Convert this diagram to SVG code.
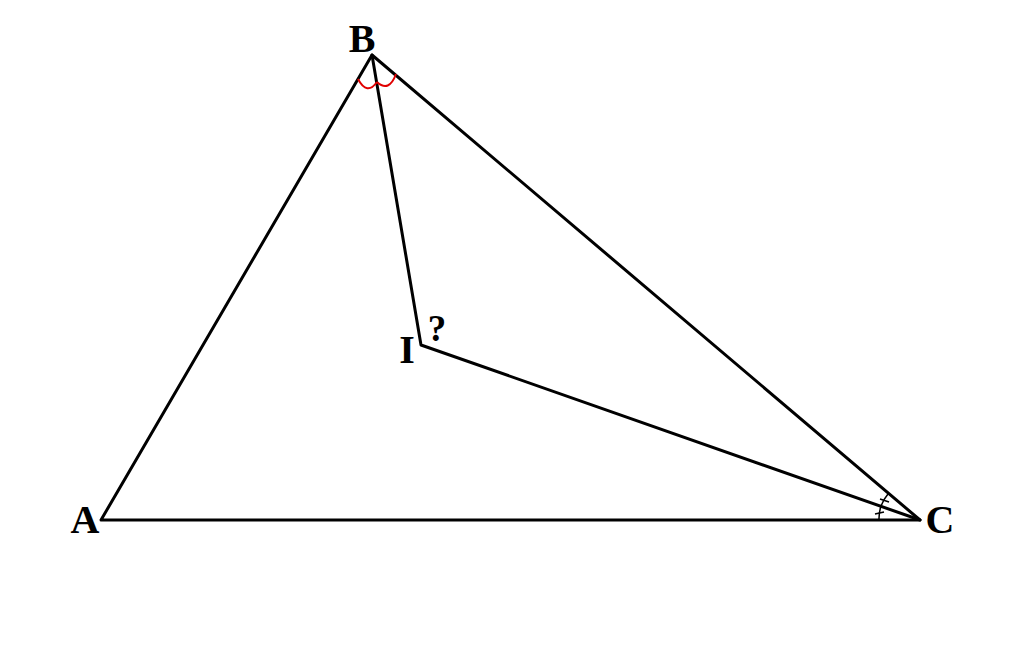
<svg xmlns="http://www.w3.org/2000/svg" width="1024" height="659" viewBox="0 0 1024 659">
<style>
.l{stroke:#000;stroke-width:3;fill:none;stroke-linecap:round;stroke-linejoin:round}
.m{stroke:#000;stroke-width:1.5;fill:none}
.r{stroke:#e00000;stroke-width:2;fill:none}
.t{font-family:"Liberation Serif","Times New Roman",serif;font-weight:bold;font-size:40px;fill:#000;text-anchor:middle}
</style>
<rect width="1024" height="659" fill="#fff"/>
<g id="edges">
<polygon class="l" points="101,520 372,55 920,520"/>
<polyline class="l" points="372,55 421,345 920,520"/>
</g>
<g id="marks">
<path class="r" d="M358,79 Q367,96 377,82"/>
<path class="r" d="M377,82 Q389,93 396,74"/>
<path class="m" d="M879,520 A41,41 0 0 1 881,506"/>
<path class="m" d="M875,514 L884,512"/>
<path class="m" d="M881,506 A41,41 0 0 1 888,494"/>
<path class="m" d="M880,499 L889,502"/>
</g>
<g id="A"><text class="t" x="85" y="533">A</text></g>
<g id="B"><text class="t" x="362" y="52">B</text></g>
<g id="C"><text class="t" x="940" y="533">C</text></g>
<g id="I"><text class="t" x="407" y="363">I</text></g>
<g id="q"><text class="t" x="437" y="341" style="font-size:37px">?</text></g>
</svg>
